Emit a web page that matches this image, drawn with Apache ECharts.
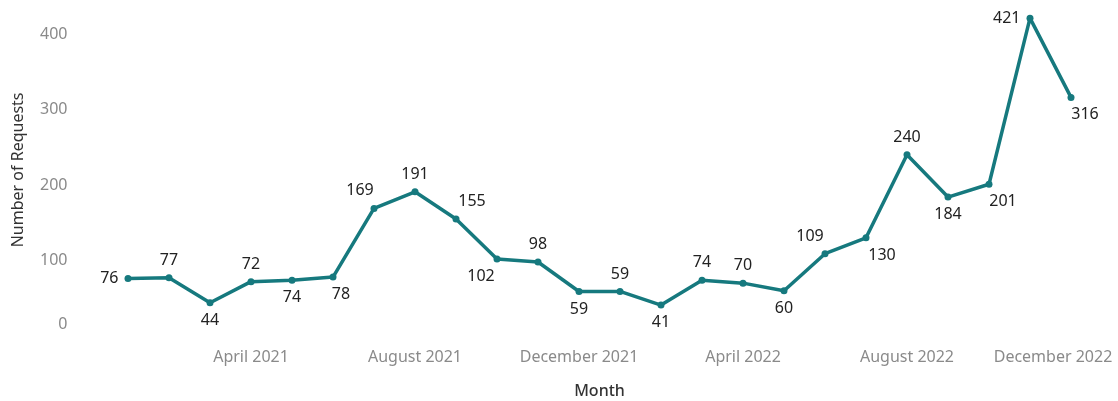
<!DOCTYPE html>
<html>
<head>
<meta charset="utf-8">
<script src="https://cdn.jsdelivr.net/npm/echarts@6/dist/echarts.min.js"></script>
<style>
  html, body { margin: 0; padding: 0; background: #fff; }
  #chart { width: 1118px; height: 401px; }
</style>
</head>
<body>
<div id="chart"></div>
<script>
// months Jan 2021 .. Dec 2022
const months = [
  "January 2021", "February 2021", "March 2021", "April 2021", "May 2021", "June 2021",
  "July 2021", "August 2021", "September 2021", "October 2021", "November 2021", "December 2021",
  "January 2022", "February 2022", "March 2022", "April 2022", "May 2022", "June 2022",
  "July 2022", "August 2022", "September 2022", "October 2022", "November 2022", "December 2022"
];
const requests = [76, 77, 44, 72, 74, 78, 169, 191, 155, 102, 98, 59, 59, 41, 74, 70, 60, 109, 130, 240, 184, 201, 421, 316];
const yTicks = [0, 100, 200, 300, 400];

// where each mark label sits (tableau places them to avoid the line)
const labelPlace = [
  ["left", 0], ["top", 0], ["bottom", 0], ["top", 0], ["bottom", 0], ["bottom", 8],
  ["top", -14], ["top", 0], ["top", 16], ["bottom", -16], ["top", 0], ["bottom", 0],
  ["top", 0], ["bottom", 0], ["top", 0], ["top", 0], ["bottom", 0], ["top", -15],
  ["bottom", 16], ["top", 0], ["bottom", 0], ["bottom", 14], ["left", 0], ["bottom", 14]
];

const LINE = "#16797e";
const font = "'Noto Sans', 'Open Sans', sans-serif";

const chart = echarts.init(document.getElementById("chart"));

const option = {
  backgroundColor: "#ffffff",
  animation: false,
  grid: { left: 107.5, right: 26.5, top: 3.8, bottom: 65, outerBoundsMode: "none" },
  xAxis: {
    type: "category",
    data: months,
    boundaryGap: true,
    name: "Month",
    nameLocation: "middle",
    nameGap: 47,
    nameTextStyle: { color: "#333", fontSize: 16, fontFamily: font, fontWeight: 500 },
    axisLine: { show: false },
    axisTick: { show: false },
    axisLabel: {
      interval: (i) => i % 4 === 3,
      margin: 13,
      color: "#8a8a8a",
      fontSize: 16,
      fontFamily: font,
      formatter: (v, i) => (i === months.length - 1 ? "{last|" + v + "}" : v),
      rich: { last: { color: "#8a8a8a", fontSize: 16, fontFamily: font, padding: [0, 36, 0, 0] } }
    }
  },
  yAxis: {
    type: "value",
    min: 0,
    max: 440,
    interval: 100,
    name: "Number of Requests",
    nameLocation: "middle",
    nameGap: 81,
    nameTextStyle: { color: "#333", fontSize: 16, fontFamily: font },
    axisLine: { show: false },
    axisTick: { show: false },
    splitLine: { show: false },
    axisLabel: {
      showMaxLabel: false,
      margin: 40,
      color: "#8a8a8a",
      fontSize: 16,
      fontFamily: font,
      formatter: (v) => (yTicks.includes(v) ? (v === 0 ? "{zero|0}" : String(v)) : ""),
      rich: { zero: { color: "#8a8a8a", fontSize: 16, fontFamily: font, padding: [0, 0, 24, 0] } }
    }
  },
  series: [
    {
      type: "line",
      data: requests.map((v, i) => ({
        value: v,
        label: {
          position: labelPlace[i][0],
          offset: [labelPlace[i][1], 0],
          distance: labelPlace[i][0] === "left" ? 6 : 6
        }
      })),
      symbol: "circle",
      symbolSize: 7,
      clip: false,
      lineStyle: { color: LINE, width: 3.5 },
      itemStyle: { color: LINE },
      label: {
        show: true,
        color: "#222",
        fontSize: 16,
        fontFamily: font
      }
    }
  ]
};

chart.setOption(option);
</script>
</body>
</html>
